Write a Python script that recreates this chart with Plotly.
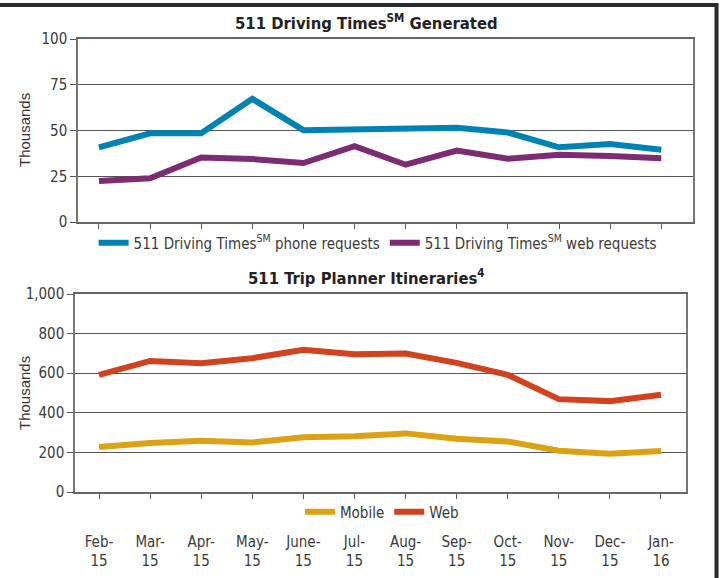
import plotly.graph_objects as go

months = ["Feb-<br>15", "Mar-<br>15", "Apr-<br>15", "May-<br>15", "June-<br>15", "Jul-<br>15",
          "Aug-<br>15", "Sep-<br>15", "Oct-<br>15", "Nov-<br>15", "Dec-<br>15", "Jan-<br>16"]
phone_requests = [40.8, 48.5, 48.5, 67.3, 50.2, 50.7, 51.5, 51.5, 48.9, 40.8, 42.6, 39.5]
web_requests = [22.4, 23.9, 35.3, 34.4, 32.2, 41.4, 31.3, 39.0, 34.6, 36.8, 36.0, 34.9]
mobile_itin = [227, 247, 259, 250, 277, 282, 296, 269, 255, 208, 193, 207]
web_itin = [592, 662, 650, 676, 718, 696, 699, 652, 592, 469, 459, 491]
top_ticks = [0, 25, 50, 75, 100]
bottom_ticks = [0, 200, 400, 600, 800, 1000]

W, H = 722, 578
idx = list(range(len(months)))

NARROW = "Liberation Sans Narrow, DejaVu Sans Condensed, Roboto Condensed, Arial Narrow, sans-serif"
BOLDC = "DejaVu Sans Condensed, Liberation Sans Narrow, Arial Narrow, sans-serif"
TXT = "#3a3a3a"
GRID = "#555555"

fig = go.Figure()
fig.add_trace(go.Scatter(x=idx, y=phone_requests, mode="lines", name="511 Driving Times<sup>SM</sup> phone requests",
                         line=dict(color="#0083B3", width=6), xaxis="x", yaxis="y", legend="legend"))
fig.add_trace(go.Scatter(x=idx, y=web_requests, mode="lines", name="511 Driving Times<sup>SM</sup> web requests",
                         line=dict(color="#7D2B73", width=6), xaxis="x", yaxis="y", legend="legend"))
fig.add_trace(go.Scatter(x=idx, y=mobile_itin, mode="lines", name="Mobile",
                         line=dict(color="#DBA213", width=6), xaxis="x2", yaxis="y2", legend="legend2"))
fig.add_trace(go.Scatter(x=idx, y=web_itin, mode="lines", name="Web",
                         line=dict(color="#D1431F", width=6), xaxis="x2", yaxis="y2", legend="legend2"))

def px_x(p):
    return p / W

def px_y(p):
    return 1 - p / H

common_y = dict(showgrid=True, gridcolor=GRID, gridwidth=1, showline=True, linecolor="#777777",
                linewidth=1.5, mirror=True, ticks="outside", ticklen=6, tickcolor=GRID,
                tickfont=dict(family=NARROW, size=15, color=TXT), zeroline=False, fixedrange=True,
                automargin=False)
common_x = dict(showgrid=False, showline=True, linecolor="#666666", linewidth=1.5, mirror=True,
                ticks="outside", ticklen=5, tickcolor="#555555", tickmode="array", tickvals=idx,
                zeroline=False, fixedrange=True, automargin=False)

fig.update_layout(
    width=W, height=H,
    margin=dict(l=0, r=0, t=0, b=0, autoexpand=False),
    paper_bgcolor="white", plot_bgcolor="white",
    showlegend=True,
    xaxis=dict(domain=[px_x(78), px_x(693)], range=[-0.41, 11.62], anchor="y",
               showticklabels=False, **common_x),
    yaxis=dict(domain=[px_y(222), px_y(39)], range=[0, 100], tickvals=top_ticks, anchor="x", **common_y),
    xaxis2=dict(domain=[px_x(75), px_x(686)], range=[-0.47, 11.49], anchor="y2",
                showticklabels=True, ticktext=months, ticklabelstandoff=30,
                tickfont=dict(family=NARROW, size=15, color=TXT), **common_x),
    yaxis2=dict(domain=[px_y(492), px_y(294)], range=[0, 1000], tickvals=bottom_ticks, tickformat=",d",
                anchor="x2", **common_y),
    legend=dict(orientation="h", x=0.523, xanchor="center", y=px_y(243), yanchor="middle",
                font=dict(family=NARROW, size=15, color=TXT), bgcolor="rgba(0,0,0,0)",
                itemwidth=30, tracegroupgap=0),
    legend2=dict(orientation="h", x=0.529, xanchor="center", y=px_y(512), yanchor="middle",
                 font=dict(family=NARROW, size=15, color=TXT), bgcolor="rgba(0,0,0,0)",
                 itemwidth=30, tracegroupgap=0),
    annotations=[
        dict(text="<b>511 Driving Times<sup>SM</sup> Generated</b>", x=px_x(366), y=px_y(22),
             xref="paper", yref="paper", showarrow=False, xanchor="center", yanchor="middle",
             font=dict(family=BOLDC, size=16.5, color="#222222")),
        dict(text="<b>511 Trip Planner Itineraries<sup>4</sup></b>", x=px_x(366), y=px_y(277),
             xref="paper", yref="paper", showarrow=False, xanchor="center", yanchor="middle",
             font=dict(family=BOLDC, size=16.5, color="#222222")),
        dict(text="Thousands", x=px_x(24), y=px_y(130), xref="paper", yref="paper", showarrow=False,
             textangle=-90, xanchor="center", yanchor="middle",
             font=dict(family="Liberation Sans, Arial, sans-serif", size=15, color="#333333")),
        dict(text="Thousands", x=px_x(24), y=px_y(393), xref="paper", yref="paper", showarrow=False,
             textangle=-90, xanchor="center", yanchor="middle",
             font=dict(family="Liberation Sans, Arial, sans-serif", size=15, color="#333333")),
    ],
    shapes=[
        dict(type="line", xref="paper", yref="paper", x0=0, x1=px_x(718), y0=px_y(5), y1=px_y(5),
             line=dict(color="#2a2a2a", width=4), layer="above"),
        dict(type="line", xref="paper", yref="paper", x0=px_x(716.5), x1=px_x(716.5), y0=0, y1=px_y(3),
             line=dict(color="#2a2a2a", width=4), layer="above"),
    ],
)

fig.write_html("out.html", config={"displayModeBar": False},
               post_script="document.body.style.margin='0';document.body.style.overflow='hidden';")
